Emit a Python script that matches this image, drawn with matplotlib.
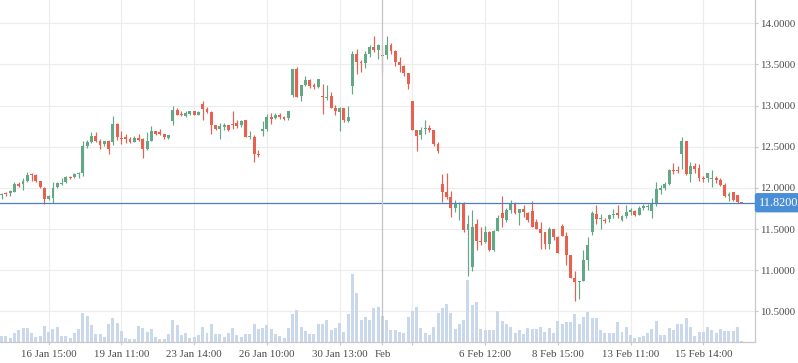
import matplotlib
matplotlib.use('Agg')
import matplotlib.pyplot as plt
from matplotlib.transforms import blended_transform_factory
import numpy as np

opens = [11.91, 11.935, 11.935, 11.955, 12.045, 12.045, 12.085, 12.165, 12.155, 12.085,
         12.0, 11.86, 11.88, 12.005, 12.045, 12.075, 12.135, 12.135, 12.17, 12.185,
         12.51, 12.555, 12.63, 12.575, 12.53, 12.57, 12.555, 12.775, 12.61, 12.615,
         12.60, 12.56, 12.61, 12.60, 12.47, 12.57, 12.69, 12.68, 12.65, 12.61,
         12.81, 12.95, 12.89, 12.87, 12.90, 12.93, 12.89, 13.02, 12.96, 12.92,
         12.76, 12.71, 12.74, 12.77, 12.78, 12.79, 12.76, 12.83, 12.62, 12.62,
         12.415, 12.69, 12.71, 12.86, 12.85, 12.88, 12.86, 12.85, 13.13, 13.44,
         13.12, 13.25, 13.31, 13.25, 13.22, 13.12, 13.09, 13.12, 12.97, 12.92,
         12.97, 12.81, 13.24, 13.63, 13.535, 13.52, 13.63, 13.71, 13.67, 13.615,
         13.62, 13.74, 13.66, 13.53, 13.48, 13.40, 13.05, 12.70, 12.64, 12.71,
         12.73, 12.70, 12.53, 12.05, 11.95, 11.89, 11.76, 11.80, 11.81, 11.49,
         11.04, 11.56, 11.36, 11.34, 11.47, 11.24, 11.48, 11.70, 11.61, 11.73,
         11.81, 11.70, 11.74, 11.70, 11.72, 11.59, 11.50, 11.47, 11.32, 11.50,
         11.40, 11.54, 11.42, 11.18, 10.91, 10.86, 10.87, 11.12, 11.47, 11.68,
         11.62, 11.61, 11.62, 11.67, 11.69, 11.61, 11.66, 11.71, 11.72, 11.67,
         11.76, 11.77, 11.72, 11.81, 11.98, 12.00, 12.05, 12.22, 12.22, 12.41,
         12.57, 12.165, 12.265, 12.24, 12.125, 12.125, 12.105, 12.125, 12.095, 12.035,
         11.905, 11.945, 11.915, 11.83]
closes = [11.93, 11.925, 11.96, 12.045, 12.025, 12.085, 12.155, 12.155, 12.085, 12.005,
          11.87, 11.90, 11.995, 12.055, 12.065, 12.135, 12.12, 12.17, 12.185, 12.51,
          12.555, 12.63, 12.575, 12.525, 12.57, 12.47, 12.775, 12.62, 12.59, 12.59,
          12.56, 12.61, 12.58, 12.47, 12.57, 12.69, 12.66, 12.66, 12.62, 12.64,
          12.95, 12.89, 12.88, 12.91, 12.94, 12.89, 12.92, 12.96, 12.92, 12.76,
          12.72, 12.75, 12.77, 12.70, 12.76, 12.75, 12.81, 12.62, 12.63, 12.41,
          12.40, 12.72, 12.86, 12.84, 12.88, 12.86, 12.84, 12.93, 13.44, 13.11,
          13.25, 13.31, 13.24, 13.22, 13.32, 13.10, 13.11, 12.97, 12.93, 12.97,
          12.82, 12.86, 13.63, 13.53, 13.52, 13.63, 13.71, 13.67, 13.74, 13.605,
          13.74, 13.66, 13.53, 13.49, 13.40, 13.26, 12.70, 12.63, 12.70, 12.73,
          12.70, 12.53, 12.45, 11.95, 11.89, 11.76, 11.81, 11.82, 11.49, 11.56,
          11.52, 11.36, 11.34, 11.47, 11.25, 11.48, 11.63, 11.63, 11.73, 11.81,
          11.69, 11.74, 11.71, 11.61, 11.52, 11.50, 11.45, 11.32, 11.50, 11.40,
          11.21, 11.42, 11.18, 10.91, 10.86, 10.87, 11.12, 11.31, 11.69, 11.62,
          11.63, 11.60, 11.67, 11.68, 11.67, 11.66, 11.71, 11.73, 11.67, 11.76,
          11.78, 11.78, 11.81, 11.99, 12.00, 12.05, 12.22, 12.205, 12.20, 12.57,
          12.165, 12.265, 12.23, 12.12, 12.105, 12.175, 12.115, 12.095, 12.035, 11.905,
          11.925, 11.855, 11.83, 11.82]
highs = [11.94, 11.95, 11.97, 12.075, 12.07, 12.115, 12.19, 12.185, 12.17, 12.085,
         12.01, 11.915, 12.075, 12.07, 12.115, 12.145, 12.145, 12.18, 12.195, 12.57,
         12.58, 12.675, 12.675, 12.59, 12.575, 12.58, 12.875, 12.785, 12.69, 12.66,
         12.62, 12.63, 12.65, 12.61, 12.68, 12.75, 12.69, 12.71, 12.65, 12.645,
         12.99, 12.97, 12.93, 12.93, 12.94, 12.94, 12.93, 13.05, 12.98, 12.93,
         12.77, 12.79, 12.79, 12.77, 12.93, 12.83, 12.83, 12.83, 12.69, 12.64,
         12.46, 12.81, 12.90, 12.91, 12.91, 12.91, 12.87, 12.94, 13.44, 13.47,
         13.25, 13.36, 13.32, 13.27, 13.32, 13.26, 13.25, 13.17, 13.01, 12.98,
         12.97, 12.99, 13.66, 13.69, 13.55, 13.66, 13.74, 13.85, 13.75, 13.74,
         13.84, 13.76, 13.68, 13.59, 13.49, 13.40, 13.06, 12.70, 12.74, 12.82,
         12.76, 12.70, 12.56, 12.17, 12.18, 11.96, 11.85, 11.83, 11.83, 11.67,
         11.73, 11.62, 11.53, 11.54, 11.48, 11.49, 11.67, 11.90, 11.75, 11.85,
         11.83, 11.74, 11.79, 11.71, 11.84, 11.62, 11.59, 11.47, 11.52, 11.50,
         11.41, 11.56, 11.46, 11.18, 10.99, 10.87, 11.25, 11.40, 11.72, 11.79,
         11.68, 11.63, 11.68, 11.74, 11.79, 11.67, 11.79, 11.75, 11.73, 11.78,
         11.81, 11.80, 11.88, 12.07, 12.04, 12.07, 12.23, 12.30, 12.26, 12.62,
         12.57, 12.32, 12.30, 12.29, 12.15, 12.18, 12.22, 12.15, 12.125, 12.055,
         11.955, 11.955, 11.915, 11.83]
lows = [11.86, 11.90, 11.905, 11.95, 12.005, 11.975, 12.07, 12.085, 12.07, 11.995,
        11.805, 11.85, 11.82, 11.995, 12.035, 12.06, 12.105, 12.125, 12.125, 12.145,
        12.48, 12.54, 12.56, 12.475, 12.51, 12.41, 12.525, 12.58, 12.53, 12.55,
        12.55, 12.555, 12.57, 12.36, 12.46, 12.57, 12.64, 12.64, 12.60, 12.59,
        12.76, 12.88, 12.87, 12.86, 12.89, 12.88, 12.88, 12.83, 12.91, 12.65,
        12.70, 12.59, 12.70, 12.69, 12.71, 12.73, 12.74, 12.62, 12.59, 12.32,
        12.37, 12.63, 12.69, 12.78, 12.84, 12.84, 12.82, 12.82, 13.10, 13.10,
        13.05, 13.24, 13.21, 13.20, 13.21, 12.90, 13.07, 12.97, 12.89, 12.69,
        12.80, 12.80, 13.14, 13.38, 13.41, 13.46, 13.59, 13.65, 13.57, 13.41,
        13.57, 13.63, 13.48, 13.41, 13.36, 13.20, 12.70, 12.45, 12.60, 12.66,
        12.68, 12.51, 12.43, 11.83, 11.87, 11.65, 11.71, 11.61, 11.47, 10.93,
        10.99, 11.25, 11.31, 11.33, 11.23, 11.23, 11.48, 11.53, 11.58, 11.70,
        11.68, 11.55, 11.65, 11.59, 11.52, 11.50, 11.26, 11.26, 11.26, 11.37,
        11.21, 11.41, 11.06, 10.90, 10.63, 10.65, 10.87, 11.00, 11.43, 11.56,
        11.50, 11.57, 11.59, 11.64, 11.63, 11.60, 11.64, 11.67, 11.66, 11.67,
        11.73, 11.73, 11.64, 11.78, 11.93, 11.98, 12.04, 12.165, 12.18, 12.23,
        12.155, 12.075, 12.18, 12.085, 12.07, 12.075, 12.015, 12.055, 12.025, 11.895,
        11.84, 11.84, 11.82, 11.82]
volumes = [20, 20, 14, 28, 37, 43, 43, 29, 17, 20, 50, 32, 41, 47, 20, 20, 14, 29, 41, 88,
           80, 53, 26, 26, 17, 56, 74, 59, 35, 14, 11, 11, 50, 44, 32, 41, 17, 11, 11, 26,
           68, 53, 23, 29, 14, 17, 23, 47, 29, 56, 26, 26, 17, 29, 44, 23, 17, 26, 26, 56,
           41, 44, 53,
           40, 26, 20, 14, 44, 85, 97, 47, 35, 26, 26, 56, 56, 67, 37, 44, 58, 32, 85, 205,
           148, 67, 77, 67, 104, 107, 80, 67, 37, 37, 31, 28, 77, 95, 107, 44, 29, 23, 47, 88,
           104, 116, 88, 41, 55, 68, 188, 113, 121, 41, 38, 38, 38, 95, 65, 56, 47, 29, 38, 26,
           44,
           41, 41, 47, 31, 43, 27, 64, 55, 61, 61, 85, 55, 77, 91, 73, 73, 37, 29, 29, 29,
           61, 32, 47, 23, 14, 17, 20, 29, 41, 64, 23, 23, 44, 37, 55, 55, 74, 47, 20, 32,
           32, 47, 37, 29, 41, 34, 34, 34, 47, 3]

tick_index = [11, 28, 45, 62, 79, 96, 113, 130, 147, 164]
tick_labels = ['16 Jan 15:00', '19 Jan 11:00', '23 Jan 14:00', '26 Jan 10:00',
               '30 Jan 13:00', '', '6 Feb 12:00', '8 Feb 15:00', '13 Feb 11:00',
               '15 Feb 14:00']
cursor_index = 89
cursor_label = 'Feb'
last_price = 11.82
price_ticks = [10.5, 11.0, 11.5, 12.0, 12.5, 13.0, 13.5, 14.0]

UP = '#62a887'
DOWN = '#e8604f'
VOLC = '#c9d8ea'
GRID = '#ececec'
TXT = '#4a4a4a'
FONT = 'Liberation Serif'

W, H = 798, 363
fig = plt.figure(figsize=(W / 100, H / 100), dpi=100)
rect = [0, 20.7 / H, 754.5 / W, 342.3 / H]
vax = fig.add_axes(rect)
ax = fig.add_axes(rect, sharex=vax)
ax.patch.set_visible(False)

n = len(opens)
x = np.arange(n)
xl = (-0.383, 175.97)
vax.set_xlim(*xl)
ylo, yhi = 10.124, 14.283
ax.set_ylim(ylo, yhi)
vax.set_ylim(0, 1027)

# grid (behind volume)
bt = blended_transform_factory(vax.transAxes, ax.transData)
for p in price_ticks:
    vax.plot([0, 1], [p, p], transform=bt, color=GRID, lw=0.8, zorder=0)
for t in tick_index:
    vax.axvline(t, color=GRID, lw=0.8, zorder=0)

# volume
vax.bar(x, volumes, width=0.7, color=VOLC, zorder=1)

# candles
o = np.array(opens); c = np.array(closes); h = np.array(highs); l = np.array(lows)
up = c >= o
cols = np.where(up, UP, DOWN)
ax.vlines(x, l, h, colors=cols, lw=0.85, zorder=3)
bottom = np.minimum(o, c)
height = np.maximum(np.abs(c - o), 0.013)
ax.bar(x, height, bottom=bottom, width=0.68, color=cols, zorder=4, linewidth=0)

# last price line
ax.axhline(last_price, color='#4f7fbf', lw=0.9, zorder=5)
# crosshair
ax.axvline(cursor_index, color='#c4c4c4', lw=0.9, zorder=5)

# spines
for a in (ax, vax):
    for s in ('top', 'left'):
        a.spines[s].set_visible(False)
vax.spines['right'].set_visible(False)
vax.spines['bottom'].set_visible(False)
ax.spines['right'].set_color('#c8c8c8')
ax.spines['bottom'].set_color('#c8c8c8')
ax.spines['right'].set_linewidth(0.9)
ax.spines['bottom'].set_linewidth(0.9)

vax.set_yticks([])
vax.tick_params(axis='x', which='both', bottom=False, labelbottom=False)

ax.yaxis.tick_right()
ax.set_yticks(price_ticks)
ax.set_yticklabels([f'{p:.4f}' for p in price_ticks], fontfamily=FONT, fontsize=7.8, color=TXT)
ax.tick_params(axis='y', length=2.5, width=0.8, color='#c8c8c8', pad=1.5)

xt = tick_index + [cursor_index]
xlab = tick_labels + [cursor_label]
ax.set_xticks(xt)
ax.set_xticklabels(xlab, fontfamily=FONT, fontsize=7.8, color=TXT)
ax.tick_params(axis='x', length=2.5, width=0.8, color='#c8c8c8', pad=3)
ax.set_xlim(*xl)

# last price label
ax.annotate(f'{last_price:.4f}', xy=(1.0, last_price),
            xycoords=blended_transform_factory(ax.transAxes, ax.transData),
            xytext=(4, 0), textcoords='offset pixels', ha='left', va='center',
            fontfamily=FONT, fontsize=8.8, color='white', zorder=10,
            annotation_clip=False,
            bbox=dict(boxstyle='round,pad=0.3,rounding_size=0.2', fc='#4a8fd6', ec='none'))

fig.savefig('out.png', dpi=100)
